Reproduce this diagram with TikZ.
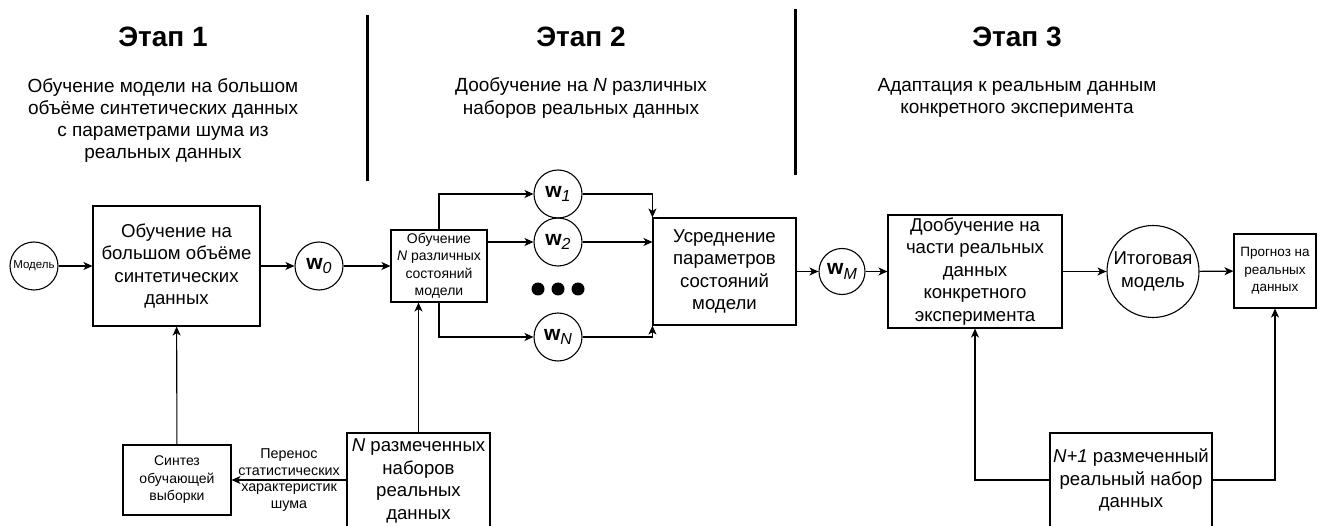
\documentclass[tikz,border=0pt]{standalone}
\usepackage{fontspec}
\setmainfont{Liberation Sans}
\usetikzlibrary{arrows.meta,calc}
\newcommand{\fsz}[2]{\fontsize{#1}{#2}\selectfont}
\newcommand{\wsym}[1]{{\fsz{21}{22}\bfseries w}\raisebox{-4.5pt}{\fsz{16}{16}\itshape #1}}
\tikzset{
  box/.style={draw, line width=1.1pt, inner sep=0pt, align=center, fill=white},
  circ/.style={draw, circle, line width=1.1pt, inner sep=0pt, align=center},
  arr/.style={line width=1.1pt, -{Stealth[length=9pt,width=8pt,inset=2.5pt]}},
  sep/.style={line width=3pt},
  head/.style={font=\fsz{28}{32}\bfseries},
  desc/.style={align=center, font=\fsz{19}{22.3}},
  big/.style={font=\fsz{18.6}{22.5}},
  small/.style={font=\fsz{14}{17.5}},
}
\begin{document}
\begin{tikzpicture}[x=1pt,y=-1pt]
\useasboundingbox (0,0) rectangle (1340,526);
\clip (0,0) rectangle (1340,526);
\fill[white] (0,0) rectangle (1340,526);

% separators
\coordinate (s1a) at (367,15); \coordinate (s1b) at (367,181);
\coordinate (s2a) at (795,9); \coordinate (s2b) at (795,175);
\draw[sep] (s1a) -- (s1b);
\draw[sep] (s2a) -- (s2b);

% headers
\node[head] (h1) at (163,37) {Этап 1};
\node[head] (h2) at (581,37) {Этап 2};
\node[head] (h3) at (1017,37) {Этап 3};
\node[desc] (d1) at (163,120.5) {Обучение модели на большом\\объёме синтетических данных\\с параметрами шума из\\реальных данных};
\node[desc] (d2) at (581,98) {Дообучение на \textit{N} различных\\наборов реальных данных};
\node[desc] (d3) at (1017,98) {Адаптация к реальным данным\\конкретного эксперимента};

% stage 1
\node[circ, minimum size=48pt, font=\fsz{11.5}{13}] (model) at (34,266) {Модель};
\node[box, big, minimum width=167pt, minimum height=120pt] (box1) at (176.5,266) {Обучение на\\большом объёме\\синтетических\\данных};
\node[circ, minimum size=48pt] (w0) at (319,266) {\wsym{0}};
\node[box, small, minimum width=108pt, minimum height=70pt] (synth) at (177,480) {Синтез\\обучающей\\выборки};
\node[box, big, minimum width=143pt, minimum height=96pt] (ndata) at (418.5,481) {\textit{N} размеченных\\наборов\\реальных\\данных};

% stage 2
\node[box, small, minimum width=96pt, minimum height=72pt] (nbox) at (439,266) {Обучение\\\textit{N} различных\\состояний\\модели};
\node[circ, minimum size=48pt] (w1) at (558,194) {\wsym{1}};
\node[circ, minimum size=48pt] (w2) at (558,242) {\wsym{2}};
\node[circ, minimum size=48pt] (wN) at (558,337) {\wsym{N}};
\fill (538,289) circle (6.5pt) (558,289) circle (6.5pt) (578,289) circle (6.5pt);
\node[box, big, minimum width=143pt, minimum height=107pt] (avg) at (724.5,271.5) {Усреднение\\параметров\\состояний\\модели};

% stage 3
\node[circ, minimum size=46pt] (wM) at (842,271.5) {\wsym{M}};
\node[box, big, minimum width=174pt, minimum height=113pt] (fine) at (975,271.5) {Дообучение на\\части реальных\\данных\\конкретного\\эксперимента};
\node[circ, big, minimum size=92pt] (final) at (1153,271.5) {Итоговая\\модель};
\node[box, font=\fsz{13.5}{17.5}, minimum width=82pt, minimum height=74pt] (prog) at (1275,271) {Прогноз на\\реальных\\данных};
\node[box, big, minimum width=162pt, minimum height=94pt] (n1) at (1131,480) {\textit{N+1} размеченный\\реальный набор\\данных};

% connectors
\draw[arr] (model) -- (box1);
\draw[arr] (box1) -- (w0);
\draw[arr] (w0) -- (nbox);
\draw[arr] (synth) -- (box1);
\draw[arr] (ndata.north) -- (ndata.north |- nbox.south);
\draw[arr] (ndata.west |- synth.east) -- (synth.east)
  node[midway, font=\fsz{14.3}{16.8}, align=center] (lbl) {Перенос\\статистических\\характеристик\\шума};
\draw[arr] (nbox.north) |- (w1);
\draw[arr] (nbox.east |- w2) -- (w2);
\draw[arr] (nbox.south) |- (wN);
\draw[arr] (w1.east) -| (avg.north west);
\draw[arr] (w2.east) -- (avg.west |- w2);
\draw[arr] (wN.east) -| (avg.south west);
\draw[arr] (avg) -- (wM);
\draw[arr] (wM) -- (fine);
\draw[arr] (fine) -- (final);
\draw[arr] (final) -- (prog);
\draw[arr] (n1.west) -| (fine.south);
\draw[arr] (n1.east) -| (prog.south);
\end{tikzpicture}
\end{document}
